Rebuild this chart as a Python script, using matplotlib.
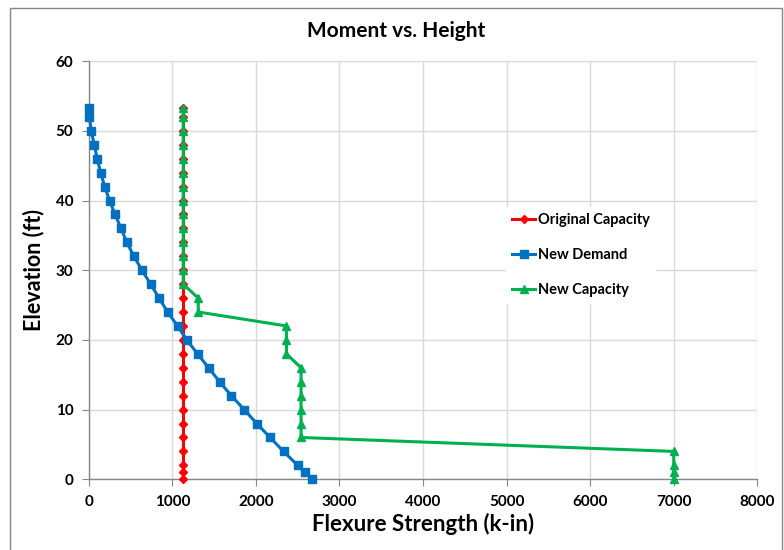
import matplotlib
matplotlib.use("Agg")
import matplotlib.pyplot as plt
from matplotlib.patches import Rectangle

plt.rcParams['font.family'] = ['Lato', 'DejaVu Sans']
plt.rcParams['font.weight'] = 'bold'

# elevations (ft), shared by all three series
elev = [53.3, 52, 50, 48, 46, 44, 42, 40, 38, 36, 34, 32, 30, 28, 26,
        24, 22, 20, 18, 16, 14, 12, 10, 8, 6, 4, 2, 1, 0]

orig_cap = [1130, 1130, 1130, 1130, 1130, 1130, 1130, 1130, 1130, 1130,
            1130, 1130, 1130, 1130, 1130, 1130, 1130, 1130, 1130, 1130,
            1130, 1130, 1130, 1130, 1130, 1130, 1130, 1130, 1130]

new_demand = [0, 8, 28, 66, 100, 142, 190, 248, 314, 386, 455, 540, 636, 740,
              840, 944, 1062, 1172, 1302, 1433, 1565, 1705, 1860, 2010, 2170,
              2330, 2500, 2585, 2675]

new_cap = [1130, 1130, 1130, 1130, 1130, 1130, 1130, 1130, 1130, 1130, 1130,
           1130, 1130, 1130, 1310, 1310, 2365, 2365, 2365, 2540, 2540, 2540,
           2540, 2540, 2540, 7000, 7000, 7000, 7000]

x_ticks = [0, 1000, 2000, 3000, 4000, 5000, 6000, 7000, 8000]
y_ticks = [0, 10, 20, 30, 40, 50, 60]

fig = plt.figure(figsize=(7.84, 5.5), dpi=100)
ax = fig.add_axes([88.8 / 784, 1 - 479.3 / 550, (757.3 - 88.8) / 784, (479.3 - 61.1) / 550])

ax.plot(orig_cap, elev, color='#FF0000', lw=2.2, marker='D', ms=4,
        label='Original Capacity', zorder=3, clip_on=False)
ax.plot(new_demand, elev, color='#0070C0', lw=2.2, marker='s', ms=5.5,
        label='New Demand', zorder=4, clip_on=False)
ax.plot(new_cap, elev, color='#00B050', lw=2.2, marker='^', ms=6,
        label='New Capacity', zorder=5, clip_on=False)

ax.set_xlim(0, 8000)
ax.set_ylim(0, 60)
ax.set_xticks(x_ticks)
ax.set_yticks(y_ticks)
ax.grid(True, color='#D9D9D9', lw=1)
ax.set_axisbelow(True)

for s in ['top', 'right']:
    ax.spines[s].set_visible(False)
for s in ['left', 'bottom']:
    ax.spines[s].set_color('#868686')
    ax.spines[s].set_linewidth(1)
ax.tick_params(direction='out', length=5, color='#868686', labelsize=11, pad=6)
for lab in ax.get_xticklabels() + ax.get_yticklabels():
    lab.set_fontweight('bold')

ax.set_xlabel('Flexure Strength (k-in)', fontsize=16, fontweight='bold', labelpad=3)
ax.set_ylabel('Elevation (ft)', fontsize=15.5, fontweight='bold', labelpad=8)
fig.text(396 / 784, 1 - 31 / 550, 'Moment vs. Height', ha='center', va='center',
         fontsize=15, fontweight='bold')

leg = ax.legend(loc='center left', bbox_to_anchor=(499 / 784, 1 - 255 / 550),
                bbox_transform=fig.transFigure, prop={'size': 10.5, 'weight': 'bold'},
                handlelength=1.6, handletextpad=0.15, labelspacing=1.45,
                frameon=True, fancybox=False, framealpha=1, edgecolor='white')

# outer chart border
fig.add_artist(Rectangle((9.5 / 784, -0.1), (781.5 - 9.5) / 784, 1.1 - 7.5 / 550,
                         transform=fig.transFigure, fill=False,
                         edgecolor='#868686', lw=1))

fig.savefig('out.png', dpi=100)
